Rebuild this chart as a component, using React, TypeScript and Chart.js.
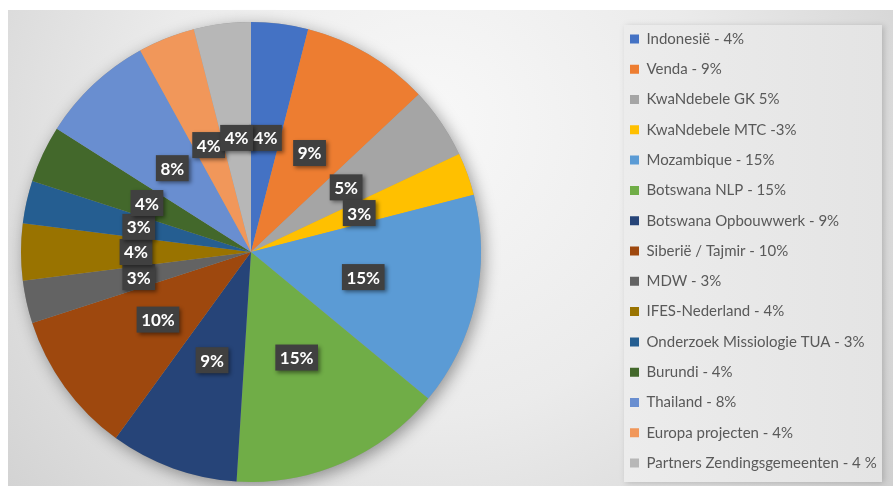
import React, { useEffect, useRef } from "react";
import { Chart, registerables } from "chart.js";

Chart.register(...registerables);

const categories = [
  "Indonesië - 4%",
  "Venda - 9%",
  "KwaNdebele GK 5%",
  "KwaNdebele MTC -3%",
  "Mozambique - 15%",
  "Botswana NLP - 15%",
  "Botswana Opbouwwerk - 9%",
  "Siberië / Tajmir - 10%",
  "MDW - 3%",
  "IFES-Nederland - 4%",
  "Onderzoek Missiologie TUA - 3%",
  "Burundi - 4%",
  "Thailand - 8%",
  "Europa projecten - 4%",
  "Partners Zendingsgemeenten - 4 %",
];

const shares = [4, 9, 5, 3, 15, 15, 9, 10, 3, 4, 3, 4, 8, 4, 4];

const sliceLabels = ["4%", "9%", "5%", "3%", "15%", "15%", "9%", "10%", "3%", "4%", "3%", "4%", "8%", "4%", "4%"];

const colors = [
  "#4472C4",
  "#ED7D31",
  "#A5A5A5",
  "#FFC000",
  "#5B9BD5",
  "#70AD47",
  "#264478",
  "#9E480E",
  "#636363",
  "#997300",
  "#255E91",
  "#43682B",
  "#698ED0",
  "#F1975A",
  "#B7B7B7",
];

const W = 885;
const H = 486;
const LEGEND_FONT = 15;
const LEGEND_PAD = 15.3;
const LEGEND_BOX = 9;
const PIE_CX = 243;
const PIE_CY = 252;
const PIE_R = 230;
const LEGEND_ITEM_X = 622;

const backgroundPlugin = {
  id: "bgPanel",
  afterLayout(chart: any) {
    const a = chart.chartArea;
    a.left = PIE_CX - PIE_R - 4;
    a.right = PIE_CX + PIE_R + 4;
    a.top = PIE_CY - PIE_R - 4;
    a.bottom = PIE_CY + PIE_R + 4;
    a.width = a.right - a.left;
    a.height = a.bottom - a.top;
  },
  beforeDraw(chart: any) {
    const ctx = chart.ctx;
    ctx.save();
    ctx.fillStyle = "#ffffff";
    ctx.fillRect(0, 0, W, H);
    const g = ctx.createRadialGradient(420, 120, 0, 420, 160, 620);
    g.addColorStop(0, "#f8f8f8");
    g.addColorStop(0.45, "#ebebeb");
    g.addColorStop(1, "#cbcbcb");
    ctx.fillStyle = g;
    ctx.fillRect(0, 10, W, H - 10);
    ctx.shadowColor = "rgba(0,0,0,0.18)";
    ctx.shadowBlur = 6;
    ctx.shadowOffsetX = 2;
    ctx.shadowOffsetY = 1;
    const lg = ctx.createLinearGradient(616, 0, 874, 0);
    lg.addColorStop(0, "#ececec");
    lg.addColorStop(1, "#e4e4e4");
    ctx.fillStyle = lg;
    ctx.fillRect(616, 25, 258, 457);
    ctx.restore();
  },
  beforeDatasetsDraw(chart: any) {
    const arc = chart.getDatasetMeta(0).data[0];
    if (!arc) return;
    const ctx = chart.ctx;
    ctx.save();
    ctx.shadowColor = "rgba(0,0,0,0.38)";
    ctx.shadowBlur = 16;
    ctx.shadowOffsetX = 3;
    ctx.shadowOffsetY = 4;
    ctx.fillStyle = "#999";
    ctx.beginPath();
    ctx.arc(arc.x, arc.y, arc.outerRadius, 0, Math.PI * 2);
    ctx.fill();
    ctx.restore();
  },
};

const labelPlugin = {
  id: "sliceBoxes",
  afterDatasetsDraw(chart: any) {
    const ctx = chart.ctx;
    const meta = chart.getDatasetMeta(0);
    ctx.save();
    ctx.font = "bold 17px Lato";
    ctx.textAlign = "center";
    ctx.textBaseline = "middle";
    meta.data.forEach((arc: any, i: number) => {
      const mid = (arc.startAngle + arc.endAngle) / 2;
      const r = arc.outerRadius * 0.5;
      const x = arc.x + Math.cos(mid) * r;
      const y = arc.y + Math.sin(mid) * r;
      const text = sliceLabels[i];
      const tw = ctx.measureText(text).width;
      const bw = tw + 9;
      const bh = 26;
      ctx.save();
      ctx.shadowColor = "rgba(0,0,0,0.45)";
      ctx.shadowBlur = 4;
      ctx.shadowOffsetX = 2;
      ctx.shadowOffsetY = 2;
      ctx.fillStyle = "#404040";
      ctx.fillRect(x - bw / 2, y - bh / 2, bw, bh);
      ctx.restore();
      ctx.fillStyle = "#ffffff";
      ctx.fillText(text, x, y + 1);
    });
    ctx.restore();
  },
};

export default function App() {
  const ref = useRef<HTMLCanvasElement | null>(null);

  useEffect(() => {
    const canvas = ref.current;
    if (!canvas) return;
    const mctx = canvas.getContext("2d")!;
    mctx.font = `${LEGEND_FONT}px Lato`;
    let maxText = 0;
    categories.forEach((c) => {
      maxText = Math.max(maxText, mctx.measureText(c).width);
    });
    const legendWidth = LEGEND_PAD + LEGEND_BOX + LEGEND_FONT / 2 + maxText + 10;
    const legendLeft = LEGEND_ITEM_X - LEGEND_PAD;
    const padRight = Math.max(W - legendLeft - legendWidth, 0);

    const chart = new Chart(canvas, {
      type: "pie",
      data: {
        labels: categories,
        datasets: [
          {
            data: shares,
            backgroundColor: colors,
            borderWidth: 0,
            hoverOffset: 0,
          },
        ],
      },
      options: {
        responsive: false,
        animation: false,
        devicePixelRatio: 1,
        radius: PIE_R,
        layout: { padding: { left: 0, right: padRight, top: 16, bottom: 0 } },
        plugins: {
          legend: {
            position: "right",
            align: "center",
            labels: {
              boxWidth: LEGEND_BOX,
              boxHeight: LEGEND_BOX,
              padding: LEGEND_PAD,
              color: "#595959",
              font: { family: "Lato", size: LEGEND_FONT },
            },
          },
          tooltip: { enabled: false },
        },
      } as any,
      plugins: [backgroundPlugin, labelPlugin],
    });
    return () => chart.destroy();
  }, []);

  return (
    <div style={{ position: "absolute", left: 8, top: 0, width: W, height: H }}>
      <canvas ref={ref} width={W} height={H} style={{ width: W, height: H, display: "block" }} />
    </div>
  );
}
